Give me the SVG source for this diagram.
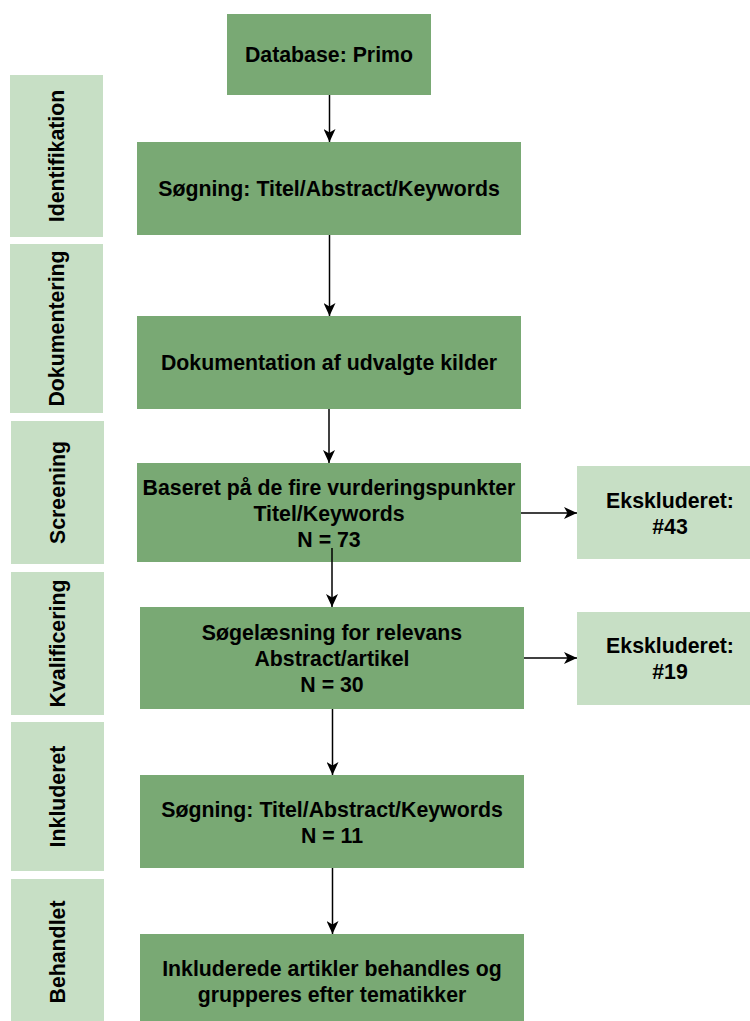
<svg xmlns="http://www.w3.org/2000/svg" width="750" height="1021" viewBox="0 0 750 1021">
  <defs>
    <style>
      .lane { fill: #c7dfc5; }
      .step { fill: #79a974; }
      .excl { fill: #c7dfc5; }
      text { font-family: "Liberation Sans", Arial, sans-serif; font-weight: bold; font-size: 21.3px; fill: #000; text-anchor: middle; }
      .edge { stroke: #000; stroke-width: 1.5; fill: none; marker-end: url(#arrow); }
    </style>
    <marker id="arrow" markerUnits="userSpaceOnUse" viewBox="0 0 13 12" refX="13" refY="6" markerWidth="13" markerHeight="12" orient="auto">
      <path d="M0,0 L13,6 L0,12 L3.5,6 Z" fill="#000"/>
    </marker>
  </defs>

  <rect width="750" height="1021" fill="#ffffff"/>

  <!-- phase lanes on the left -->
  <g id="lane-identifikation">
    <rect class="lane" x="10" y="75" width="93" height="162"/>
    <text transform="translate(64,156) rotate(-90)">Identifikation</text>
  </g>
  <g id="lane-dokumentering">
    <rect class="lane" x="10" y="244" width="93" height="169"/>
    <text transform="translate(64,328.5) rotate(-90)">Dokumentering</text>
  </g>
  <g id="lane-screening">
    <rect class="lane" x="11" y="421" width="93" height="143"/>
    <text transform="translate(65,492.5) rotate(-90)">Screening</text>
  </g>
  <g id="lane-kvalificering">
    <rect class="lane" x="11" y="572" width="93" height="143"/>
    <text transform="translate(65,643.5) rotate(-90)">Kvalificering</text>
  </g>
  <g id="lane-inkluderet">
    <rect class="lane" x="11" y="722" width="93" height="149"/>
    <text transform="translate(65,796.5) rotate(-90)">Inkluderet</text>
  </g>
  <g id="lane-behandlet">
    <rect class="lane" x="11" y="879" width="93" height="146"/>
    <text transform="translate(65,952) rotate(-90)">Behandlet</text>
  </g>

  <!-- process steps -->
  <g id="database">
    <rect class="step" x="227" y="14" width="204" height="81"/>
    <text x="329" y="62">Database: Primo</text>
  </g>
  <g id="soegning">
    <rect class="step" x="137" y="142" width="384" height="93"/>
    <text x="329" y="196">Søgning: Titel/Abstract/Keywords</text>
  </g>
  <g id="dokumentation">
    <rect class="step" x="137" y="316" width="384" height="93"/>
    <text x="329" y="370">Dokumentation af udvalgte kilder</text>
  </g>
  <g id="screening">
    <rect class="step" x="137" y="463" width="384" height="99"/>
    <text x="329" y="494.5">Baseret på de fire vurderingspunkter</text>
    <text x="329" y="520.5">Titel/Keywords</text>
    <text x="329" y="546.5">N = 73</text>
  </g>
  <g id="ekskluderet-43">
    <rect class="excl" x="577" y="466" width="186" height="93"/>
    <text x="670" y="507.5">Ekskluderet:</text>
    <text x="670" y="533.5">#43</text>
  </g>
  <g id="soegelaesning">
    <rect class="step" x="140" y="607" width="384" height="102"/>
    <text x="332" y="639.5">Søgelæsning for relevans</text>
    <text x="332" y="665.5">Abstract/artikel</text>
    <text x="332" y="691.5">N = 30</text>
  </g>
  <g id="ekskluderet-19">
    <rect class="excl" x="577" y="612" width="186" height="93"/>
    <text x="670" y="652.5">Ekskluderet:</text>
    <text x="670" y="678.5">#19</text>
  </g>
  <g id="inkluderet">
    <rect class="step" x="140" y="775" width="384" height="93"/>
    <text x="332" y="816.5">Søgning: Titel/Abstract/Keywords</text>
    <text x="332" y="842.5">N = 11</text>
  </g>
  <g id="behandlet">
    <rect class="step" x="140" y="934" width="384" height="94"/>
    <text x="332" y="975.5">Inkluderede artikler behandles og</text>
    <text x="332" y="1001.5">grupperes efter tematikker</text>
  </g>

  <!-- connectors -->
  <g id="connectors">
    <line class="edge" x1="329.5" y1="95" x2="329.5" y2="142"/>
    <line class="edge" x1="329.5" y1="235" x2="329.5" y2="316"/>
    <line class="edge" x1="329" y1="409" x2="329" y2="463"/>
    <line class="edge" x1="332" y1="548" x2="332" y2="607"/>
    <line class="edge" x1="521" y1="513" x2="577" y2="513"/>
    <line class="edge" x1="524" y1="658" x2="577" y2="658"/>
    <line class="edge" x1="332.5" y1="709" x2="332.5" y2="775"/>
    <line class="edge" x1="332.5" y1="868" x2="332.5" y2="934"/>
  </g>
</svg>
